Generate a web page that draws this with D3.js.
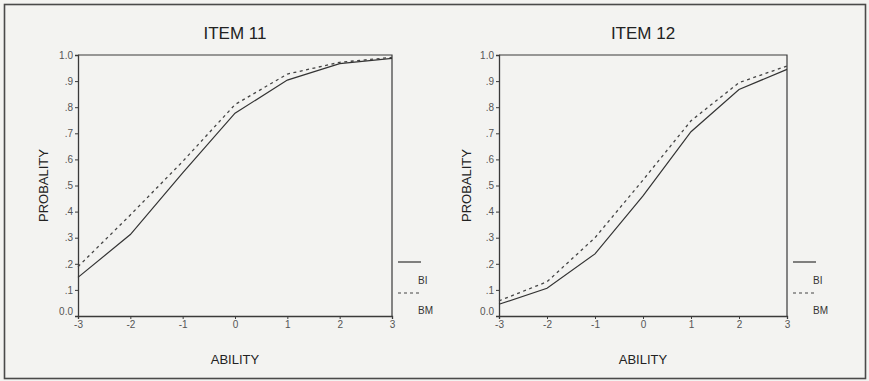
<!DOCTYPE html>
<html>
<head>
<meta charset="utf-8">
<script src="https://cdn.jsdelivr.net/npm/d3@7"></script>
<style>
  html, body { margin: 0; padding: 0; background: #f3f3f1; }
  svg { display: block; font-family: "Liberation Sans", Arial, sans-serif; }
</style>
</head>
<body>
<svg id="chart" width="869" height="381"></svg>
<script>
// Item characteristic curves: probability of a correct answer by ability level
const abilityLevels = [-3, -2, -1, 0, 1, 2, 3];
const yTickValues = [0, 0.1, 0.2, 0.3, 0.4, 0.5, 0.6, 0.7, 0.8, 0.9, 1.0];
const yTickLabels = ["0.0", ".1", ".2", ".3", ".4", ".5", ".6", ".7", ".8", ".9", "1.0"];
const seriesNames = ["BI", "BM"];

const item11BI = [0.148, 0.312, 0.548, 0.777, 0.904, 0.967, 0.987];
const item11BM = [0.189, 0.387, 0.592, 0.810, 0.927, 0.972, 0.991];
const item12BI = [0.045, 0.106, 0.238, 0.460, 0.706, 0.868, 0.945];
const item12BM = [0.058, 0.131, 0.300, 0.521, 0.748, 0.894, 0.958];

const panels = [
  { title: "ITEM 11", bi: item11BI, bm: item11BM, x0: 78, x1: 392, yLabelX: 44 },
  { title: "ITEM 12", bi: item12BI, bm: item12BM, x0: 499, x1: 787, yLabelX: 467 }
];

const svg = d3.select("#chart");
const ink = "#3a3a3a";
const tickInk = "#555";

// outer frame
svg.append("rect")
  .attr("x", 4.5).attr("y", 4.5).attr("width", 861).attr("height", 374)
  .attr("fill", "none").attr("stroke", "#4a4a4a").attr("stroke-width", 1.6);

const yTop = 55, yBottom = 316;

panels.forEach(p => {
  const g = svg.append("g");
  const x = d3.scaleLinear().domain([-3, 3]).range([p.x0, p.x1]);
  const y = d3.scaleLinear().domain([0, 1]).range([yBottom, yTop]);

  // plot box (top and right edges)
  g.append("path")
    .attr("d", `M${p.x0},${yTop}H${p.x1}V${yBottom}`)
    .attr("fill", "none").attr("stroke", ink).attr("stroke-width", 1.2);

  // y axis
  const yAxis = d3.axisLeft(y)
    .tickValues(yTickValues)
    .tickSize(3)
    .tickPadding(2)
    .tickFormat((d, i) => yTickLabels[i]);
  const ya = g.append("g").attr("transform", `translate(${p.x0},0)`).call(yAxis);
  ya.select(".domain").attr("stroke", ink).attr("stroke-width", 1.3);
  ya.selectAll(".tick line").attr("stroke", ink);
  ya.selectAll(".tick text")
    .attr("fill", tickInk).attr("font-size", 10)
    .attr("font-family", "Liberation Sans, Arial, sans-serif")
    .attr("dy", (d) => d === 0 ? "-0.15em" : "0.32em");

  // x axis
  const xAxis = d3.axisBottom(x).tickValues(abilityLevels).tickSize(3).tickPadding(2)
    .tickFormat(d3.format("d"));
  const xa = g.append("g").attr("transform", `translate(0,${yBottom})`).call(xAxis);
  xa.select(".domain").attr("stroke", ink).attr("stroke-width", 1.3);
  xa.selectAll(".tick line").attr("stroke", ink);
  xa.selectAll(".tick text")
    .attr("fill", tickInk).attr("font-size", 10)
    .attr("font-family", "Liberation Sans, Arial, sans-serif")
    .text(d => d < 0 ? "-" + Math.abs(d) : String(d));

  // curves
  const line = d3.line().x((d, i) => x(abilityLevels[i])).y(d => y(d));
  g.append("path").datum(p.bm).attr("d", line)
    .attr("fill", "none").attr("stroke", "#444").attr("stroke-width", 1.3)
    .attr("stroke-dasharray", "3,3.5");
  g.append("path").datum(p.bi).attr("d", line)
    .attr("fill", "none").attr("stroke", "#333").attr("stroke-width", 1.2);

  // title and axis titles
  g.append("text")
    .attr("x", (p.x0 + p.x1) / 2).attr("y", 39)
    .attr("text-anchor", "middle").attr("font-size", 17).attr("fill", "#222")
    .text(p.title);
  g.append("text")
    .attr("x", (p.x0 + p.x1) / 2).attr("y", 364)
    .attr("text-anchor", "middle").attr("font-size", 13).attr("fill", "#222")
    .text("ABILITY");
  g.append("text")
    .attr("transform", `translate(${p.yLabelX + 4},${(yTop + yBottom) / 2}) rotate(-90)`)
    .attr("text-anchor", "middle").attr("font-size", 13).attr("fill", "#222")
    .text("PROBALITY");

  // legend
  const lx = p.x1 + 6;
  const legend = g.append("g");
  legend.append("line")
    .attr("x1", lx).attr("x2", lx + 23).attr("y1", 262).attr("y2", 262)
    .attr("stroke", "#333").attr("stroke-width", 1.2);
  legend.append("text")
    .attr("x", lx + 20).attr("y", 284).attr("font-size", 10).attr("fill", "#333")
    .text(seriesNames[0]);
  legend.append("line")
    .attr("x1", lx).attr("x2", lx + 23).attr("y1", 293).attr("y2", 293)
    .attr("stroke", "#444").attr("stroke-width", 1.2).attr("stroke-dasharray", "3,3");
  legend.append("text")
    .attr("x", lx + 20).attr("y", 314).attr("font-size", 10).attr("fill", "#333")
    .text(seriesNames[1]);
});
</script>
</body>
</html>
